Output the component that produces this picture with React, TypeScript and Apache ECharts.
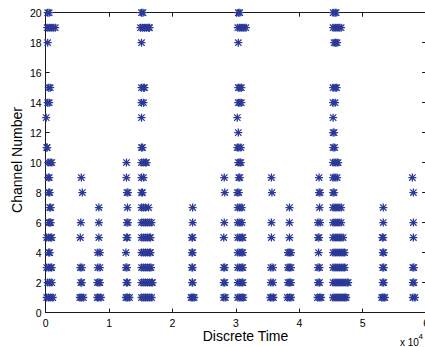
import React, { useEffect, useRef } from "react";
import * as echarts from "echarts";

// Discrete time values (raw units; axis shows them in x 10^4) for each channel
const ch1 = [158, 475, 791, 1108, 5380, 5617, 5934, 8149, 8386, 8703, 12658, 12896, 13212, 15111, 15427, 15744, 16060, 16377, 16693, 22943, 23180, 23418, 28086, 28323, 30301, 30617, 30934, 31171, 35443, 35681, 35918, 38133, 38449, 38687, 42880, 43196, 43434, 45332, 45649, 45965, 46282, 46598, 46914, 47151, 47389, 53007, 53245, 53482, 57913, 58229];
const ch2 = [316, 633, 949, 5538, 5696, 8149, 8386, 8544, 12737, 12896, 15111, 15427, 15744, 16060, 16377, 16693, 16851, 23102, 23180, 28086, 28244, 30301, 30617, 30934, 31092, 35522, 35839, 38212, 38449, 38687, 42959, 43196, 45332, 45649, 45965, 46282, 46598, 46914, 47230, 47546, 47705, 53166, 53324, 57913, 58071];
const ch3 = [158, 475, 791, 949, 5459, 5696, 8228, 8544, 12658, 12817, 15111, 15427, 15744, 16060, 16377, 16614, 23063, 23180, 28086, 28244, 30301, 30617, 30934, 31092, 35522, 35839, 38212, 38449, 38687, 42959, 43196, 45332, 45649, 45965, 46282, 46598, 46914, 47151, 53166, 53324, 57913, 58071];
const ch4 = [475, 633, 8228, 8544, 12658, 15111, 15427, 15744, 16060, 16377, 16535, 23063, 23180, 30301, 30617, 30934, 31092, 38212, 38449, 38687, 43038, 45332, 45649, 45965, 46282, 46598, 46914, 47151, 53166, 53324];
const ch5 = [158, 475, 791, 949, 5459, 8386, 12737, 12896, 15111, 15427, 15744, 16060, 16377, 16535, 23063, 23180, 28086, 30301, 30617, 30934, 31092, 35601, 38449, 42959, 43117, 45332, 45649, 45965, 46282, 46598, 46914, 53087, 53245, 57992];
const ch6 = [475, 633, 791, 5538, 8386, 12817, 12975, 15111, 15427, 15744, 16060, 16377, 16693, 23180, 28165, 30301, 30617, 30934, 35601, 38449, 42959, 43275, 45332, 45649, 45965, 46282, 46598, 53245, 57992];
const ch7 = [633, 791, 8386, 12896, 15111, 15427, 15744, 16218, 23180, 30301, 30617, 30934, 38449, 43196, 45332, 45649, 45965, 46282, 46598, 53245];
const ch8 = [475, 633, 5775, 12817, 12975, 15111, 15269, 28244, 30222, 30459, 35681, 43117, 43275, 45332, 45491, 57992];
const ch9 = [396, 554, 5617, 12737, 15111, 15427, 28165, 30459, 30617, 35601, 43117, 45332, 45649, 45965, 57834];
const ch10 = [396, 712, 949, 12737, 15111, 15427, 15744, 15902, 30380, 30617, 30775, 45332, 45649, 45965, 46123];
const ch11 = [158, 237, 15111, 15269, 30222, 30459, 30775, 45332, 45570];
const ch12 = [30380, 45332, 45491];
const ch13 = [79, 15111, 30222, 45332];
const ch14 = [316, 554, 15111, 15427, 30380, 30617, 30855, 45332, 45649];
const ch15 = [475, 712, 15111, 15427, 15586, 30380, 30617, 30855, 45332, 45649, 45886];
const ch18 = [316, 15111, 30380, 45491, 45728, 45965];
const ch19 = [237, 554, 870, 1187, 1503, 14953, 15269, 15586, 15902, 16218, 16377, 30301, 30617, 30934, 31250, 31567, 45332, 45649, 45965, 46282, 46598];
const ch20 = [316, 554, 15111, 15348, 30380, 30617, 45332, 45649, 45807];

const channelList: [number, number[]][] = [
  [1, ch1], [2, ch2], [3, ch3], [4, ch4], [5, ch5], [6, ch6], [7, ch7],
  [8, ch8], [9, ch9], [10, ch10], [11, ch11], [12, ch12], [13, ch13],
  [14, ch14], [15, ch15], [18, ch18], [19, ch19], [20, ch20],
];

const xTickLabels = ["0", "1", "2", "3", "4", "5", "6"];

const STAR =
  "path://M0,8.4 L20,8.4 L20,11.6 L0,11.6 Z " +
  "M8.4,0 L11.6,0 L11.6,20 L8.4,20 Z " +
  "M3.1,0.9 L19.1,16.9 L16.9,19.1 L0.9,3.1 Z " +
  "M16.9,0.9 L19.1,3.1 L3.1,19.1 L0.9,16.9 Z";

const FONT = '"Liberation Sans", Arial, sans-serif';

export default function App() {
  const ref = useRef<HTMLDivElement>(null);
  useEffect(() => {
    if (!ref.current) return;
    const chart = echarts.init(ref.current, undefined, { renderer: "svg" });
    const data: number[][] = [];
    channelList.forEach(([ch, times]) => times.forEach((t) => data.push([t, ch])));

    const axisLine = { show: true, onZero: false, lineStyle: { color: "#1a1a1a", width: 1 } };
    const axisTick = { show: true, inside: true, length: 4, lineStyle: { color: "#1a1a1a" } };

    chart.setOption({
      animation: false,
      backgroundColor: "#ffffff",
      grid: {
        left: 45.7, width: 380.4, top: 12.7, height: 299.8,
        containLabel: false, outerBoundsMode: "none",
      },
      xAxis: [
        {
          type: "value", position: "bottom", min: 0, max: 60000, interval: 10000,
          axisLine, axisTick, splitLine: { show: false },
          axisLabel: {
            color: "#000", fontSize: 10.5, fontFamily: FONT, margin: 5,
            formatter: (v: number) => xTickLabels[Math.round(v / 10000)] ?? "",
          },
        },
        {
          type: "value", position: "top", min: 0, max: 60000, interval: 10000,
          axisLine, axisTick, splitLine: { show: false }, axisLabel: { show: false },
        },
      ],
      yAxis: [
        {
          type: "value", position: "left", min: 0, max: 20, interval: 2,
          axisLine, axisTick, splitLine: { show: false },
          axisLabel: { color: "#000", fontSize: 10.5, fontFamily: FONT, margin: 4 },
        },
        {
          type: "value", position: "right", min: 0, max: 20, interval: 2,
          axisLine, axisTick, splitLine: { show: false }, axisLabel: { show: false },
        },
      ],
      series: [
        {
          type: "scatter",
          data,
          symbol: STAR,
          symbolSize: 8,
          clip: false,
          itemStyle: { color: "#2a3896", opacity: 1 },
        },
      ],
      graphic: [
        {
          type: "text", x: 17, y: 160, rotation: Math.PI / 2,
          style: { text: "Channel Number", font: `14px ${FONT}`, fill: "#000", align: "center", verticalAlign: "middle", textAlign: "center", textVerticalAlign: "middle" },
        },
        {
          type: "text", x: 245.5, y: 336,
          style: { text: "Discrete Time", font: `14px ${FONT}`, fill: "#000", align: "center", verticalAlign: "middle", textAlign: "center", textVerticalAlign: "middle" },
        },
        {
          type: "text", x: 400, y: 342.7,
          style: { text: "x 10", font: `10px ${FONT}`, fill: "#000", align: "left", verticalAlign: "middle", textAlign: "left", textVerticalAlign: "middle" },
        },
        {
          type: "text", x: 418.5, y: 336.5,
          style: { text: "4", font: `8px ${FONT}`, fill: "#000", align: "left", verticalAlign: "middle", textAlign: "left", textVerticalAlign: "middle" },
        },
      ],
    });
    return () => chart.dispose();
  }, []);
  return (
    <div
      ref={ref}
      style={{ position: "fixed", left: 0, top: 0, width: 425, height: 347, background: "#fff" }}
    />
  );
}
